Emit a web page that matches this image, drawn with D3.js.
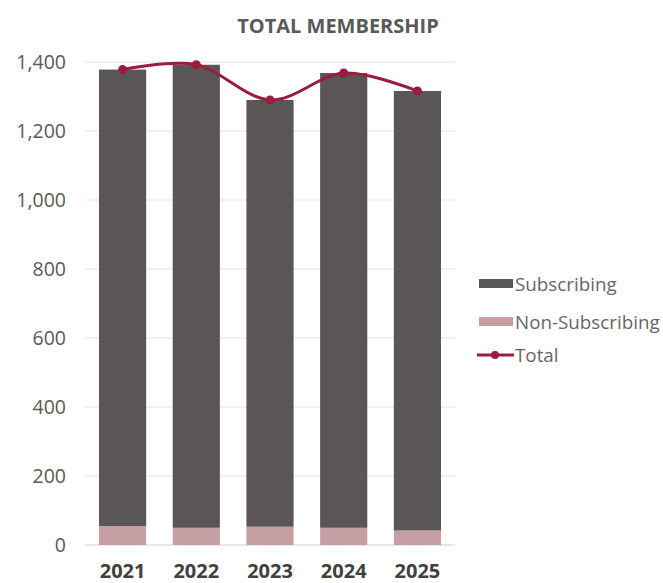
<!DOCTYPE html>
<html><head><meta charset="utf-8">
<script src="https://cdn.jsdelivr.net/npm/d3@7"></script>
<style>body{margin:0;background:#fff}svg{display:block;font-family:"Open Sans",sans-serif}</style>
</head><body><svg id="c" width="663" height="583"></svg>
<script>
const years = ["2021","2022","2023","2024","2025"];
const subscribing = [1323, 1342, 1237, 1318, 1274];
const nonSubscribing = [55, 50, 53, 50, 42];
const total = [1378, 1392, 1290, 1368, 1316];
const yTicks = [0,200,400,600,800,1000,1200,1400];

const svg = d3.select("#c");
const x = d3.scaleBand().domain(years).range([85,455]).paddingInner(0.36).paddingOuter(0.19);
const y = d3.scaleLinear().domain([0,1400]).range([545,62]);

svg.append("text").attr("x",338).attr("y",33).attr("text-anchor","middle")
  .attr("font-size",20).attr("font-weight",700).attr("fill","#595959").text("TOTAL MEMBERSHIP");

svg.append("g").selectAll("line").data(yTicks).join("line")
  .attr("x1",85).attr("x2",455).attr("y1",d=>y(d)).attr("y2",d=>y(d))
  .attr("stroke",d=>d===0?"#d0d0d0":"#e3e3e3").attr("stroke-width",1);

svg.append("g").selectAll("text").data(yTicks).join("text")
  .attr("x",66).attr("y",d=>y(d)+7).attr("text-anchor","end")
  .attr("font-size",19.5).attr("fill","#595959").text(d3.format(","));

const data = years.map((yr,i)=>({yr, s:subscribing[i], n:nonSubscribing[i], t:total[i]}));
svg.append("g").selectAll("rect").data(data).join("rect")
  .attr("x",d=>x(d.yr)).attr("width",x.bandwidth())
  .attr("y",d=>y(d.n)).attr("height",d=>y(0)-y(d.n)).attr("fill","#c69fa5");
svg.append("g").selectAll("rect").data(data).join("rect")
  .attr("x",d=>x(d.yr)).attr("width",x.bandwidth())
  .attr("y",d=>y(d.n+d.s)).attr("height",d=>y(d.n)-y(d.n+d.s)).attr("fill","#5a5556");

const line = d3.line().x(d=>x(d.yr)+x.bandwidth()/2).y(d=>y(d.t)).curve(d3.curveCatmullRom.alpha(0));
svg.append("path").datum(data).attr("d",line).attr("fill","none").attr("stroke","#9b1c3c").attr("stroke-width",3);
svg.append("g").selectAll("circle").data(data).join("circle")
  .attr("cx",d=>x(d.yr)+x.bandwidth()/2).attr("cy",d=>y(d.t)).attr("r",4.5).attr("fill","#9b1c3c");

svg.append("g").selectAll("text").data(years).join("text")
  .attr("x",d=>x(d)+x.bandwidth()/2).attr("y",578).attr("text-anchor","middle")
  .attr("font-size",20).attr("font-weight",700).attr("fill","#404040").text(d=>d);

const lg = svg.append("g");
lg.append("rect").attr("x",479).attr("y",279).attr("width",34).attr("height",9).attr("fill","#5a5556");
lg.append("text").attr("x",515).attr("y",291).attr("font-size",18.8).attr("fill","#666").text("Subscribing");
lg.append("rect").attr("x",479).attr("y",317).attr("width",34).attr("height",9).attr("fill","#c69fa5");
lg.append("text").attr("x",515).attr("y",329).attr("font-size",18.8).attr("fill","#666").text("Non-Subscribing");
lg.append("line").attr("x1",477).attr("x2",514).attr("y1",355).attr("y2",355).attr("stroke","#9b1c3c").attr("stroke-width",3);
lg.append("circle").attr("cx",495).attr("cy",355).attr("r",4).attr("fill","#9b1c3c");
lg.append("text").attr("x",515).attr("y",362).attr("font-size",18.8).attr("fill","#666").text("Total");
</script></body></html>
